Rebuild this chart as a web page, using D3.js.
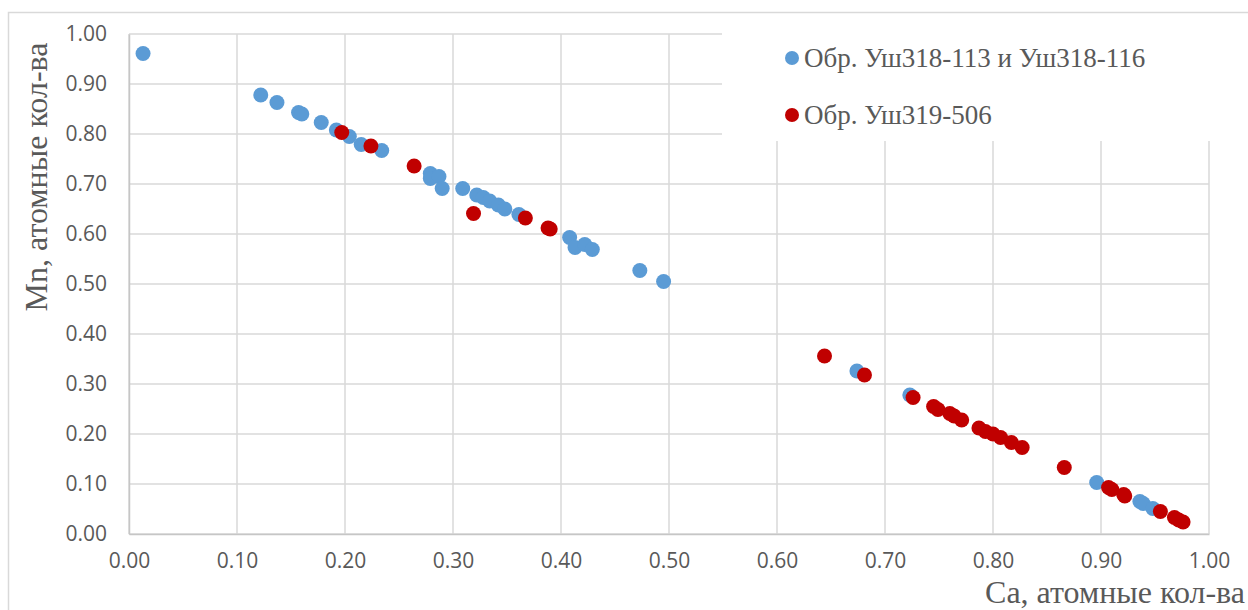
<!DOCTYPE html>
<html>
<head>
<meta charset="utf-8">
<script src="https://cdn.jsdelivr.net/npm/d3@7"></script>
<style>
  html, body { margin: 0; padding: 0; background: #fff; }
  svg { display: block; }
</style>
</head>
<body>
<svg id="chart" width="1248" height="610"></svg>
<script>
// Series: Ca (x) vs Mn (y), atomic amounts
const seriesNames = ["Обр. Уш318-113 и Уш318-116", "Обр. Уш319-506"];
const seriesColors = ["#5B9BD5", "#C00000"];

const blueCa = [0.013, 0.122, 0.137, 0.157, 0.160, 0.178, 0.192, 0.204, 0.215, 0.234,
  0.279, 0.279, 0.287, 0.290, 0.309, 0.322, 0.328, 0.334, 0.342, 0.348, 0.361,
  0.408, 0.413, 0.422, 0.429, 0.473, 0.495,
  0.674, 0.723, 0.896, 0.936, 0.939, 0.948];
const blueMn = [0.961, 0.878, 0.863, 0.843, 0.840, 0.823, 0.808, 0.795, 0.779, 0.767,
  0.721, 0.711, 0.715, 0.691, 0.691, 0.678, 0.673, 0.666, 0.658, 0.650, 0.639,
  0.593, 0.573, 0.579, 0.569, 0.527, 0.505,
  0.326, 0.278, 0.103, 0.065, 0.061, 0.051];

const redCa = [0.197, 0.224, 0.264, 0.319, 0.367, 0.388, 0.390,
  0.644, 0.681, 0.726, 0.745, 0.749, 0.760, 0.764, 0.771, 0.787, 0.793, 0.800,
  0.807, 0.817, 0.827, 0.866, 0.907, 0.910, 0.921, 0.922, 0.955, 0.968, 0.972, 0.976];
const redMn = [0.803, 0.776, 0.736, 0.641, 0.632, 0.612, 0.610,
  0.356, 0.318, 0.273, 0.255, 0.249, 0.241, 0.236, 0.228, 0.212, 0.205, 0.200,
  0.193, 0.183, 0.173, 0.133, 0.093, 0.089, 0.079, 0.076, 0.045, 0.033, 0.028, 0.024];

const xTicks = [0, 0.1, 0.2, 0.3, 0.4, 0.5, 0.6, 0.7, 0.8, 0.9, 1.0];
const yTicks = [0, 0.1, 0.2, 0.3, 0.4, 0.5, 0.6, 0.7, 0.8, 0.9, 1.0];
const xTitle = "Са, атомные кол-ва";
const yTitle = "Mn, атомные кол-ва";

const svg = d3.select("#chart");
const plot = { left: 129, top: 34, right: 1209, bottom: 534 };
const gridColor = "#d9d9d9";
const textColor = "#595959";
const tickFont = "'Open Sans', 'Liberation Sans', sans-serif";
const serifFont = "'Liberation Serif', 'DejaVu Serif', serif";

const x = d3.scaleLinear().domain([0, 1]).range([plot.left, plot.right]);
const y = d3.scaleLinear().domain([0, 1]).range([plot.bottom, plot.top]);

// outer chart frame (runs off the right and bottom edges)
svg.append("rect")
  .attr("x", 8.5).attr("y", 12.5)
  .attr("width", 1400).attr("height", 800)
  .attr("fill", "#fff").attr("stroke", gridColor).attr("stroke-width", 1.5);

// gridlines
const grid = svg.append("g");
grid.selectAll("line.v").data(xTicks).join("line")
  .attr("x1", d => x(d)).attr("x2", d => x(d))
  .attr("y1", plot.top).attr("y2", plot.bottom)
  .attr("stroke", gridColor).attr("stroke-width", 1.5);
grid.selectAll("line.h").data(yTicks).join("line")
  .attr("x1", plot.left).attr("x2", plot.right)
  .attr("y1", d => y(d)).attr("y2", d => y(d))
  .attr("stroke", gridColor).attr("stroke-width", 1.5);

// axes
const xAxis = d3.axisBottom(x).tickValues(xTicks).tickSize(0).tickPadding(19)
  .tickFormat(d3.format(".2f"));
const yAxis = d3.axisLeft(y).tickValues(yTicks).tickSize(0).tickPadding(22)
  .tickFormat(d3.format(".2f"));

const gx = svg.append("g").attr("transform", `translate(0,${plot.bottom})`).call(xAxis);
const gy = svg.append("g").attr("transform", `translate(${plot.left},0)`).call(yAxis);
[gx, gy].forEach(g => {
  g.select(".domain").attr("stroke", "#c6c6c6").attr("stroke-width", 1.5);
  g.selectAll("text").attr("fill", textColor)
    .style("font-family", tickFont).style("font-size", "21px");
});
gx.selectAll("text").attr("dy", "0.71em");

// points
const blue = blueCa.map((c, i) => ({ c, m: blueMn[i] }));
const red = redCa.map((c, i) => ({ c, m: redMn[i] }));
const r = 7.5;
svg.append("g").selectAll("circle").data(blue).join("circle")
  .attr("cx", d => x(d.c)).attr("cy", d => y(d.m)).attr("r", r)
  .attr("fill", seriesColors[0]);
svg.append("g").selectAll("circle").data(red).join("circle")
  .attr("cx", d => x(d.c)).attr("cy", d => y(d.m)).attr("r", r)
  .attr("fill", seriesColors[1]);

// legend
const legend = svg.append("g");
legend.append("rect")
  .attr("x", 722).attr("y", 22).attr("width", 510).attr("height", 119)
  .attr("fill", "#fff");
seriesNames.forEach((name, i) => {
  const cy = 58 + i * 57;
  legend.append("circle").attr("cx", 792).attr("cy", cy).attr("r", 7)
    .attr("fill", seriesColors[i]);
  legend.append("text").attr("x", 804).attr("y", cy).attr("dy", "0.35em")
    .attr("fill", textColor)
    .style("font-family", serifFont).style("font-size", "27px")
    .text(name);
});

// axis titles
svg.append("text")
  .attr("x", 1245).attr("y", 603)
  .attr("text-anchor", "end")
  .attr("fill", textColor)
  .style("font-family", serifFont).style("font-size", "32px")
  .text(xTitle);
svg.append("text")
  .attr("transform", "translate(47,177) rotate(-90)")
  .attr("text-anchor", "middle")
  .attr("fill", textColor)
  .style("font-family", serifFont).style("font-size", "32px")
  .text(yTitle);
</script>
</body>
</html>
